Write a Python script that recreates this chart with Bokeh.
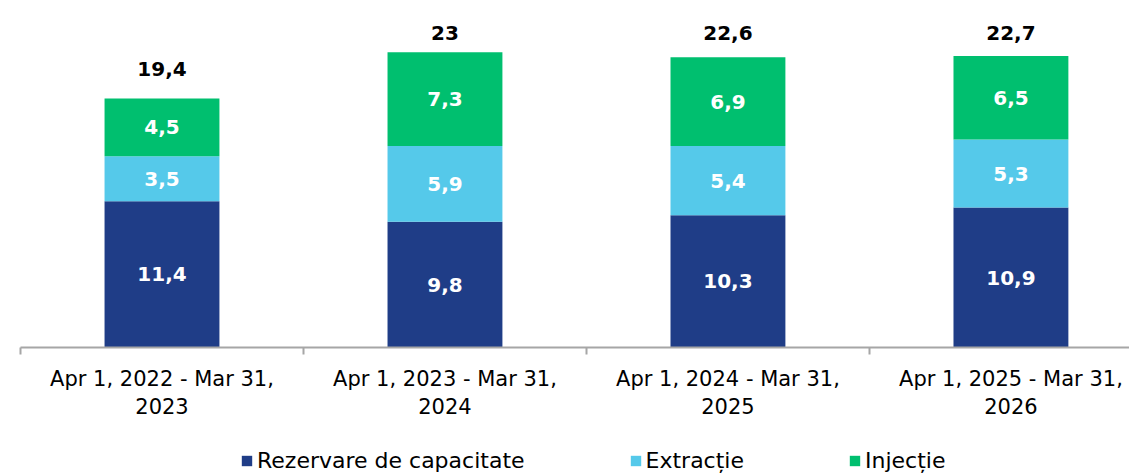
import numpy as np
from bokeh.plotting import figure
from bokeh.layouts import column
from bokeh.models import ColumnDataSource, Range1d, FixedTicker, Legend, LegendItem
from bokeh.core.properties import value
from bokeh.embed import file_html
from bokeh.resources import INLINE

periods = ["Apr 1, 2022 - Mar 31,\n2023", "Apr 1, 2023 - Mar 31,\n2024",
           "Apr 1, 2024 - Mar 31,\n2025", "Apr 1, 2025 - Mar 31,\n2026"]
rezervare = [11.4, 9.8, 10.3, 10.9]
extractie = [3.5, 5.9, 5.4, 5.3]
injectie = [4.5, 7.3, 6.9, 6.5]
series_names = ["Rezervare de capacitate", "Extracție", "Injecție"]
colors = ["#1F3D87", "#55C9EA", "#00BF6F"]

def fmt(v):
    return ("{:g}".format(round(v, 1))).replace(".", ",")

x = np.arange(len(periods), dtype=float)
r = np.array(rezervare); e = np.array(extractie); i = np.array(injectie)
totals = r + e + i

FONT = "DejaVu Sans"
MAIN_H = 433
p = figure(width=1129, height=MAIN_H, output_backend="svg", toolbar_location=None,
           x_range=Range1d(-0.5, 3.419), y_range=Range1d(0, 27.03),
           min_border_left=20, min_border_right=0, min_border_top=0,
           min_border_bottom=MAIN_H - 347)
p.outline_line_color = None
p.xgrid.visible = False
p.ygrid.visible = False
p.yaxis.visible = False

bottoms = [np.zeros(4), r, r + e]
tops = [r, r + e, totals]
vals = [r, e, i]
for k in range(3):
    src = ColumnDataSource(dict(x=x, bottom=bottoms[k], top=tops[k],
                                mid=(bottoms[k] + tops[k]) / 2,
                                lab=[fmt(v) for v in vals[k]]))
    p.vbar(x="x", bottom="bottom", top="top", width=0.406, source=src,
           fill_color=colors[k], line_color=None)
    p.text(x="x", y="mid", text="lab", source=src, text_color="white",
           text_font=value(FONT), text_font_style="bold", text_font_size="20px",
           text_align="center", text_baseline="middle")

tsrc = ColumnDataSource(dict(x=x, y=np.minimum(totals + 2.3, 24.5), lab=[fmt(v) for v in totals]))
p.text(x="x", y="y", text="lab", source=tsrc, text_color="black",
       text_font=value(FONT), text_font_style="bold", text_font_size="20px",
       text_align="center", text_baseline="middle")

ax = p.xaxis[0]
ax.ticker = FixedTicker(ticks=list(x), minor_ticks=list(np.arange(-0.5, 4.0, 1.0)))
ax.major_label_overrides = {float(k): periods[k] for k in range(4)}
ax.major_tick_line_color = None
ax.major_tick_out = 7
ax.major_tick_in = 0
ax.minor_tick_out = 7
ax.minor_tick_in = 0
ax.minor_tick_line_color = "#A6A6A6"
ax.minor_tick_line_width = 2
ax.axis_line_color = "#A6A6A6"
ax.axis_line_width = 2
ax.major_label_standoff = 12
ax.major_label_text_font = FONT
ax.major_label_text_font_size = "21px"
ax.major_label_text_color = "black"

# legend strip (separate small figure so the legend is not clipped)
lg = figure(width=1129, height=473 - MAIN_H, output_backend="svg", toolbar_location=None,
            x_range=Range1d(100, 101), y_range=Range1d(100, 101),
            min_border_left=0, min_border_right=0, min_border_top=0, min_border_bottom=0)
lg.outline_line_color = None
lg.axis.visible = False
lg.grid.visible = False
items = []
for k in range(3):
    src = ColumnDataSource(dict(x=x, top=tops[k], bottom=bottoms[k]))
    rr = lg.vbar(x="x", bottom="bottom", top="top", width=0.406, source=src,
                 fill_color=colors[k], line_color=None)
    items.append(LegendItem(label=series_names[k], renderers=[rr]))
legend = Legend(items=items, orientation="horizontal", location=(220, 0),
                glyph_width=13, glyph_height=13, label_standoff=4, spacing=104,
                padding=0, margin=0, border_line_color=None, background_fill_alpha=0,
                label_text_font=FONT, label_text_font_size="22px", label_text_color="black")
lg.add_layout(legend, "center")

layout = column(p, lg, spacing=0)
open("out.html", "w").write(file_html(layout, INLINE))
